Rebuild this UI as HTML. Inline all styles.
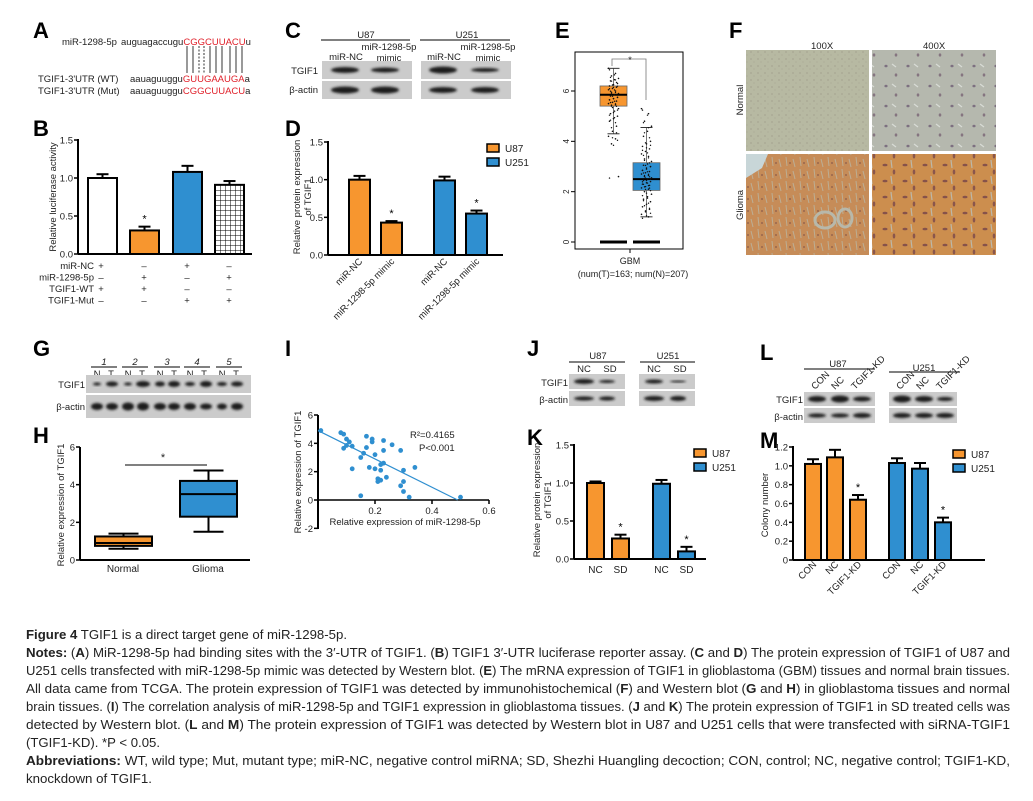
<!DOCTYPE html>
<html><head><meta charset="utf-8"><style>
html,body{margin:0;padding:0;background:#fff;}
svg{display:block;font-family:"Liberation Sans",sans-serif;}
.pl{font-weight:bold;font-size:22px;fill:#000;}
.t{font-size:9.5px;fill:#222;}
.cap{font-size:13px;fill:#222;}
</style></head><body>
<svg id="fig" width="1033" height="801" viewBox="0 0 1033 801" xmlns="http://www.w3.org/2000/svg">
<defs>
<filter id="blur" x="-20%" y="-50%" width="140%" height="200%"><feGaussianBlur stdDeviation="1.3"/></filter>
<pattern id="grid" width="5" height="5" patternUnits="userSpaceOnUse"><rect width="5" height="5" fill="#fff"/><path d="M0 0H5M0 0V5" stroke="#000" stroke-width="1"/></pattern>
<pattern id="nrm1" width="7" height="7" patternUnits="userSpaceOnUse"><rect width="7" height="7" fill="#b7b9a2"/><circle cx="2" cy="3" r="0.5" fill="#8a8070"/><circle cx="5" cy="6" r="0.4" fill="#958d80"/></pattern>
<pattern id="nrm2" width="22" height="20" patternUnits="userSpaceOnUse"><rect width="22" height="20" fill="#b5b8ae"/><ellipse cx="6" cy="6" rx="1.6" ry="1.3" fill="#7d7080"/><ellipse cx="16" cy="15" rx="1.3" ry="1.6" fill="#857580"/><path d="M12 4l4 3" stroke="#d8dcd6" stroke-width="1.2"/></pattern>
<pattern id="gli1" width="14" height="12" patternUnits="userSpaceOnUse"><rect width="14" height="12" fill="#c68c58"/><path d="M2 1l1 9M9 3l2 8" stroke="#bcae94" stroke-width="1"/><circle cx="6" cy="7" r="0.9" fill="#8a5a4a"/></pattern>
<pattern id="gli2" width="20" height="16" patternUnits="userSpaceOnUse"><rect width="20" height="16" fill="#cc8e4e"/><ellipse cx="5" cy="5" rx="2.5" ry="1.3" fill="#86524a"/><ellipse cx="14" cy="12" rx="1.3" ry="2.5" fill="#8a564c"/><path d="M11 0l1 8" stroke="#bcb8a8" stroke-width="1.2"/></pattern>
</defs>

<text class="pl" x="33" y="38">A</text>
<g class="t">
<text x="62" y="45" class="t">miR-1298-5p</text>
<text x="121" y="45" class="t">auguagaccugu<tspan fill="#e0202a">CGGCUUACU</tspan>u</text>
<text x="38" y="82" class="t">TGIF1-3'UTR (WT)</text>
<text x="130" y="82" class="t">aauaguuggu<tspan fill="#e0202a">GUUGAAUGA</tspan>a</text>
<text x="38" y="94" class="t">TGIF1-3'UTR (Mut)</text>
<text x="130" y="94" class="t">aauaguuggu<tspan fill="#e0202a">CGGCUUACU</tspan>a</text>
<g stroke="#000" stroke-width="0.8">
<line x1="187" y1="46" x2="187" y2="73"/><line x1="193" y1="46" x2="193" y2="73"/>
<line x1="199" y1="46" x2="199" y2="73" stroke-dasharray="2,1.5"/><line x1="204" y1="46" x2="204" y2="73" stroke-dasharray="2,1.5"/>
<line x1="210" y1="46" x2="210" y2="73"/><line x1="216" y1="46" x2="216" y2="73"/><line x1="222" y1="46" x2="222" y2="73"/>
<line x1="230" y1="46" x2="230" y2="73"/><line x1="236" y1="46" x2="236" y2="73"/><line x1="242" y1="46" x2="242" y2="73"/>
</g></g>

<text class="pl" x="285" y="38">C</text>
<g id="blotC"></g>

<text class="pl" x="33" y="136">B</text>
<g id="chartB"></g>

<text class="pl" x="285" y="136">D</text>
<g id="chartD"></g>

<text class="pl" x="555" y="38">E</text>
<g id="chartE"></g>

<text class="pl" x="729" y="38">F</text>
<g>
<text x="811" y="49" class="t" font-size="8">100X</text>
<text x="923" y="49" class="t" font-size="8">400X</text>
<rect x="746" y="50" width="123" height="101" fill="url(#nrm1)"/>
<rect x="872" y="50" width="124" height="101" fill="url(#nrm2)"/>
<rect x="746" y="154" width="123" height="101" fill="url(#gli1)"/>
<path d="M746 154h22l-6 14l-16 10z" fill="#c8d6d8"/>
<ellipse cx="825" cy="220" rx="10" ry="8" fill="none" stroke="#b8b8aa" stroke-width="3"/>
<ellipse cx="845" cy="218" rx="7" ry="9" fill="none" stroke="#b8b8aa" stroke-width="3"/>
<rect x="872" y="154" width="124" height="101" fill="url(#gli2)"/>
<text transform="translate(743,100) rotate(-90)" text-anchor="middle" class="t" font-size="8">Normal</text>
<text transform="translate(743,205) rotate(-90)" text-anchor="middle" class="t" font-size="8">Glioma</text>
</g>

<text class="pl" x="33" y="356">G</text>
<g id="blotG"></g>

<text class="pl" x="33" y="443">H</text>
<g id="chartH"></g>

<text class="pl" x="285" y="356">I</text>
<g id="chartI"></g>

<text class="pl" x="527" y="356">J</text>
<g id="blotJ"></g>

<text class="pl" x="527" y="445">K</text>
<g id="chartK"></g>

<text class="pl" x="760" y="360">L</text>
<g id="blotL"></g>

<text class="pl" x="760" y="448">M</text>
<g id="chartM"></g>

<g>
<text class="cap" x="26" y="639" textLength="321" lengthAdjust="spacingAndGlyphs"><tspan font-weight="bold">Figure 4</tspan> TGIF1 is a direct target gene of miR-1298-5p.</text>
<text class="cap" x="26" y="657" textLength="984" lengthAdjust="spacingAndGlyphs"><tspan font-weight="bold">Notes:</tspan> (<tspan font-weight="bold">A</tspan>) MiR-1298-5p had binding sites with the 3′-UTR of TGIF1. (<tspan font-weight="bold">B</tspan>) TGIF1 3′-UTR luciferase reporter assay. (<tspan font-weight="bold">C</tspan> and <tspan font-weight="bold">D</tspan>) The protein expression of TGIF1 of U87 and</text>
<text class="cap" x="26" y="675" textLength="984" lengthAdjust="spacingAndGlyphs">U251 cells transfected with miR-1298-5p mimic was detected by Western blot. (<tspan font-weight="bold">E</tspan>) The mRNA expression of TGIF1 in glioblastoma (GBM) tissues and normal brain tissues.</text>
<text class="cap" x="26" y="693" textLength="984" lengthAdjust="spacingAndGlyphs">All data came from TCGA. The protein expression of TGIF1 was detected by immunohistochemical (<tspan font-weight="bold">F</tspan>) and Western blot (<tspan font-weight="bold">G</tspan> and <tspan font-weight="bold">H</tspan>) in glioblastoma tissues and normal</text>
<text class="cap" x="26" y="711" textLength="984" lengthAdjust="spacingAndGlyphs">brain tissues. (<tspan font-weight="bold">I</tspan>) The correlation analysis of miR-1298-5p and TGIF1 expression in glioblastoma tissues. (<tspan font-weight="bold">J</tspan> and <tspan font-weight="bold">K</tspan>) The protein expression of TGIF1 in SD treated cells was</text>
<text class="cap" x="26" y="729" textLength="984" lengthAdjust="spacingAndGlyphs">detected by Western blot. (<tspan font-weight="bold">L</tspan> and <tspan font-weight="bold">M</tspan>) The protein expression of TGIF1 was detected by Western blot in U87 and U251 cells that were transfected with siRNA-TGIF1</text>
<text class="cap" x="26" y="747" textLength="134" lengthAdjust="spacingAndGlyphs">(TGIF1-KD). *P &lt; 0.05.</text>
<text class="cap" x="26" y="765" textLength="984" lengthAdjust="spacingAndGlyphs"><tspan font-weight="bold">Abbreviations:</tspan> WT, wild type; Mut, mutant type; miR-NC, negative control miRNA; SD, Shezhi Huangling decoction; CON, control; NC, negative control; TGIF1-KD,</text>
<text class="cap" x="26" y="783" textLength="126" lengthAdjust="spacingAndGlyphs">knockdown of TGIF1.</text>
</g>
</svg>
<script>
const bCats = ['miR-NC + WT','miR-1298-5p + WT','miR-NC + Mut','miR-1298-5p + Mut'];
const bValues = [1.0, 0.31, 1.08, 0.91];
const bErrors = [0.05, 0.05, 0.08, 0.05];
const bTicks = [0, 0.5, 1.0, 1.5];
const dCats = ['miR-NC','miR-1298-5p mimic','miR-NC','miR-1298-5p mimic'];
const dValues = [1.0, 0.43, 0.99, 0.55];
const dErrors = [0.05, 0.02, 0.05, 0.04];
const dTicks = [0, 0.5, 1.0, 1.5];
const eTumorStats = [4.3, 5.4, 5.85, 6.2, 6.9];
const eNormalStats = [1.0, 2.05, 2.5, 3.15, 4.55];
const eTumorPoints = [6.9,6.7,6.6,6.5,6.45,6.4,6.3,6.25,6.2,6.15,6.1,6.05,6.0,5.95,5.9,5.85,5.8,5.75,5.7,5.65,5.6,5.55,5.5,5.45,5.4,5.3,5.2,5.1,5.0,4.9,4.8,4.6,4.4,4.2,4.1,3.9,2.6];
const eNormalPoints = [5.3,5.1,4.8,4.6,4.4,4.2,4.0,3.9,3.8,3.7,3.6,3.5,3.4,3.3,3.2,3.1,3.05,3.0,2.9,2.85,2.8,2.75,2.7,2.65,2.6,2.55,2.5,2.45,2.4,2.35,2.3,2.25,2.2,2.15,2.1,2.0,1.9,1.8,1.7,1.6,1.5,1.4,1.3,1.2,1.1,1.0];
const eTicks = [0, 2, 4, 6];
const hNormal = [0.6, 0.75, 0.9, 1.25, 1.4];
const hGlioma = [1.5, 2.3, 3.5, 4.2, 4.75];
const hTicks = [0, 2, 4, 6];
const iX = [0.01,0.08,0.09,0.10,0.11,0.09,0.10,0.12,0.12,0.15,0.16,0.17,0.17,0.19,0.19,0.20,0.18,0.20,0.21,0.21,0.22,0.22,0.22,0.23,0.23,0.23,0.24,0.26,0.29,0.30,0.30,0.29,0.30,0.32,0.34,0.15,0.50];
const iY = [4.9,4.75,4.65,4.3,4.1,3.65,3.85,3.8,2.2,3.0,3.3,3.7,4.5,4.3,4.1,3.2,2.3,2.2,1.5,1.3,1.4,2.1,2.5,2.6,3.5,4.2,1.6,3.9,3.5,2.1,1.3,1.0,0.6,0.2,2.3,0.3,0.2];
const iFit = [4.9, -10.0];
const iXTicks = [0.2, 0.4, 0.6];
const iYTicks = [-2, 0, 2, 4, 6];
const kValues = [1.0, 0.27, 0.99, 0.1];
const kErrors = [0.02, 0.05, 0.05, 0.06];
const kTicks = [0, 0.5, 1.0, 1.5];
const mValues = [1.02, 1.09, 0.64, 1.03, 0.97, 0.40];
const mErrors = [0.05, 0.08, 0.05, 0.05, 0.06, 0.05];
const mTicks = [0, 0.2, 0.4, 0.6, 0.8, 1.0, 1.2];

const NS='http://www.w3.org/2000/svg';
const ORANGE='#f7962f', BLUE='#2f8fd0';
function mk(parent, tag, attrs, txt){const e=document.createElementNS(NS,tag);for(const k in attrs)e.setAttribute(k,attrs[k]);if(txt!==undefined)e.textContent=txt;parent.appendChild(e);return e;}
function lin(d0,d1,r0,r1){return v=>r0+(v-d0)*(r1-r0)/(d1-d0);}

function yAxis(g,x,y,ticks,fmt,yTop,yBot){
  let el=mk(g,'line',{x1:x,y1:yTop,x2:x,y2:yBot,stroke:'#000','stroke-width':2});
  
  
  ticks.forEach(t=>{
    mk(g,'line',{x1:x-4,y1:y(t),x2:x,y2:y(t),stroke:'#000','stroke-width':1.5});
    const tl=mk(g,'text',{x:x-5,y:y(t)+3.5,'text-anchor':'end','font-size':9.5,fill:'#222'},fmt(t));
    
    
  });
}
function bars(g,xs,w,vals,errs,fills,y,stars){
  vals.forEach((v,i)=>{
    const e=y(v+errs[i]);
    mk(g,'line',{x1:xs[i]+w/2,y1:y(v),x2:xs[i]+w/2,y2:e,stroke:'#000','stroke-width':2});
    mk(g,'line',{x1:xs[i]+w/2-6,y1:e,x2:xs[i]+w/2+6,y2:e,stroke:'#000','stroke-width':2});
    const r=mk(g,'rect',{x:xs[i],y:y(v),width:w,height:y(0)-y(v),fill:fills[i],stroke:'#000','stroke-width':2});
    
    
    if(stars&&stars[i]){mk(g,'text',{x:xs[i]+w/2,y:e-4,'text-anchor':'middle','font-size':11,fill:'#000'},'*');}
  });
}
function ylab(g,x,y,lines){
  const t=mk(g,'text',{transform:`translate(${x},${y}) rotate(-90)`,'text-anchor':'middle','font-size':9.5,fill:'#222'});
  
  
  lines.forEach((l,i)=>mk(t,'tspan',{x:0,dy:i?11:0},l));
}
function legend(g,x,y){
  [[ORANGE,'U87'],[BLUE,'U251']].forEach((p,i)=>{
    const r=mk(g,'rect',{x:x,y:y+i*14,width:12,height:8,fill:p[0],stroke:'#000','stroke-width':1.5});
    
    
    const t=mk(g,'text',{x:x+18,y:y+i*14+8,'font-size':10,fill:'#222'},p[1]);
    
    
  });
}
function blot(g,x,y,w,h,bands){
  const r=mk(g,'rect',{x:x,y:y,width:w,height:h,fill:'#cbcbcb'});
  
  
  bands.forEach(b=>mk(g,'ellipse',{cx:b[0],cy:y+h/2,rx:b[1],ry:b[2],fill:'#1e1e1e',filter:'url(#blur)'}));
}
function rlab(g,x,y,s,fs){
  const t=mk(g,'text',{transform:`translate(${x},${y}) rotate(-45)`,'text-anchor':'end','font-size':fs||9.5,fill:'#222'},s);
  
  
}
function txt(g,x,y,s,a,fs,name){
  const t=mk(g,'text',{x:x,y:y,'text-anchor':a||'middle','font-size':fs||9.5,fill:'#222'},s);
  
  
  return t;
}
function hline(g,x1,x2,y){mk(g,'line',{x1:x1,y1:y,x2:x2,y2:y,stroke:'#000','stroke-width':1});}

(function(){const g=document.getElementById('blotC');
 txt(g,366,38,'U87');txt(g,467,38,'U251');hline(g,321,410,40);hline(g,420,510,40);
 txt(g,389,50,'miR-1298-5p');txt(g,346,60,'miR-NC');txt(g,389,61,'mimic');
 txt(g,488,50,'miR-1298-5p');txt(g,444,60,'miR-NC');txt(g,488,61,'mimic');
 txt(g,318,74,'TGIF1','end',9.5,'row-label-tgif1');txt(g,318,93,'β-actin','end',9.5,'row-label-actin');
 blot(g,322,61,90,18,[[345,14,3],[385,14,2.5]]);blot(g,322,81,90,18,[[345,14,3.5],[385,14,3.5]]);
 blot(g,421,61,90,18,[[443,14,3.5],[485,14,2]]);blot(g,421,81,90,18,[[443,14,3],[485,14,3]]);
})();

(function(){const g=document.getElementById('chartB');
 const y=lin(0,1.5,254,140);
 yAxis(g,78,y,bTicks,t=>t.toFixed(1),139,254);
 mk(g,'line',{x1:78,y1:254,x2:252,y2:254,stroke:'#000','stroke-width':2});
 bars(g,[88,130,173,215],29,bValues,bErrors,['#fff',ORANGE,BLUE,'url(#grid)'],y,[0,1,0,0]);
 ylab(g,56,197,['Relative luciferase activity']);
 const rows=['miR-NC','miR-1298-5p','TGIF1-WT','TGIF1-Mut'];
 const signs=[['+','–','+','–'],['–','+','–','+'],['+','+','–','–'],['–','–','+','+']];
 const cx=[101,144,187,229];
 rows.forEach((r,i)=>{txt(g,94,269+i*11.5,r,'end',9.5,'row-label');
  signs[i].forEach((s,j)=>txt(g,cx[j],269+i*11.5,s,'middle',9.5,'sign'));});
})();

(function(){const g=document.getElementById('chartD');
 const y=lin(0,1.5,255,142);
 yAxis(g,328,y,dTicks,t=>t.toFixed(1),141,255);
 mk(g,'line',{x1:328,y1:255,x2:503,y2:255,stroke:'#000','stroke-width':2});
 const xs=[349,381,434,466];
 bars(g,xs,21,dValues,dErrors,[ORANGE,ORANGE,BLUE,BLUE],y,[0,1,0,1]);
 ylab(g,300,197,['Relative protein expression','of TGIF1']);
 dCats.forEach((c,i)=>rlab(g,xs[i]+14,262,c));
 legend(g,487,144);
})();

(function(){const g=document.getElementById('chartE');
 const y=lin(0,6,242,91);
 const fr=mk(g,'rect',{x:575,y:52,width:108,height:197,fill:'none',stroke:'#000','stroke-width':1});
 
 eTicks.forEach(t=>{mk(g,'line',{x1:571,y1:y(t),x2:575,y2:y(t),stroke:'#000'});
  const tl=mk(g,'text',{transform:`translate(569,${y(t)}) rotate(-90)`,'text-anchor':'middle','font-size':8,fill:'#222'},String(t));
  });
 mk(g,'line',{x1:630,y1:249,x2:630,y2:253,stroke:'#000'});
 function box(st,x0,w,col,pts,name){
  mk(g,'line',{x1:x0+w/2,y1:y(st[0]),x2:x0+w/2,y2:y(st[4]),stroke:'#555','stroke-width':0.8});
  mk(g,'line',{x1:x0+w/2-6,y1:y(st[0]),x2:x0+w/2+6,y2:y(st[0]),stroke:'#333'});
  mk(g,'line',{x1:x0+w/2-6,y1:y(st[4]),x2:x0+w/2+6,y2:y(st[4]),stroke:'#333'});
  const r=mk(g,'rect',{x:x0,y:y(st[3]),width:w,height:y(st[1])-y(st[3]),fill:col,stroke:'#666','stroke-width':0.8});
  
  mk(g,'line',{x1:x0,y1:y(st[2]),x2:x0+w,y2:y(st[2]),stroke:'#000','stroke-width':2});
  pts.forEach((v,i)=>mk(g,'circle',{cx:x0+w/2-5+((i*7)%11),cy:y(v),r:0.8,fill:'#111'}));
  pts.forEach((v,i)=>mk(g,'circle',{cx:x0+w/2-4+((i*5)%9),cy:y(v)+1.5,r:0.7,fill:'#111'}));
  mk(g,'line',{x1:x0,y1:242,x2:x0+w,y2:242,stroke:'#000','stroke-width':3});
 }
 box(eTumorStats,600,27,ORANGE,eTumorPoints,'box-tumor');
 box(eNormalStats,633,27,BLUE,eNormalPoints,'box-normal');
 mk(g,'path',{d:'M612 66V59H646V100',fill:'none',stroke:'#777','stroke-width':0.8});
 txt(g,630,63,'*','middle',9);
 txt(g,630,264,'GBM','middle',9,'x-axis-label');
 txt(g,633,277,'(num(T)=163; num(N)=207)','middle',9,'x-axis-subtitle');
})();

(function(){const g=document.getElementById('blotG');
 const cx=[104,135,167,197,229];
 cx.forEach((c,i)=>{const t=txt(g,c,365,String(i+1),'middle',9.5,'sample-number');t.setAttribute('font-style','italic');
  hline(g,c-13,c+13,367);txt(g,c-7,377,'N');txt(g,c+7,377,'T');});
 txt(g,85,388,'TGIF1','end',9.5,'row-label-tgif1');txt(g,85,410,'β-actin','end',9.5,'row-label-actin');
 const tg=[[97,4,1.5],[112,6,2.5],[128,4,1.5],[143,7,3],[160,5,2.5],[174,6,3],[190,5,2],[206,6,3],[222,5,2],[237,6,2.5]];
 const ac=[[97,6,3.5],[112,6,3.5],[128,6,4],[143,6,4],[160,6,3.5],[174,6,3.5],[190,6,3.5],[206,6,3],[222,5,3],[237,6,3.5]];
 blot(g,86,375,165,18,tg);blot(g,86,395,165,23,ac);
})();

(function(){const g=document.getElementById('chartH');
 const y=lin(0,6,560,447);
 yAxis(g,80,y,hTicks,t=>String(t),447,560);
 mk(g,'line',{x1:80,y1:560,x2:250,y2:560,stroke:'#000','stroke-width':2});
 function box(st,x0,w,col,name){
  mk(g,'line',{x1:x0+w/2,y1:y(st[0]),x2:x0+w/2,y2:y(st[4]),stroke:'#000','stroke-width':2});
  mk(g,'line',{x1:x0+w/2-15,y1:y(st[0]),x2:x0+w/2+15,y2:y(st[0]),stroke:'#000','stroke-width':2});
  mk(g,'line',{x1:x0+w/2-15,y1:y(st[4]),x2:x0+w/2+15,y2:y(st[4]),stroke:'#000','stroke-width':2});
  const r=mk(g,'rect',{x:x0,y:y(st[3]),width:w,height:y(st[1])-y(st[3]),fill:col,stroke:'#000','stroke-width':2});
  
  mk(g,'line',{x1:x0,y1:y(st[2]),x2:x0+w,y2:y(st[2]),stroke:'#000','stroke-width':2});
 }
 box(hNormal,95,57,ORANGE,'box-normal');box(hGlioma,180,57,BLUE,'box-glioma');
 hline(g,125,207,465);txt(g,163,461,'*','middle',11);
 txt(g,123,572,'Normal','middle',10,'x-tick-label');txt(g,208,572,'Glioma','middle',10,'x-tick-label');
 ylab(g,64,505,['Relative expression of TGIF1']);
})();

(function(){const g=document.getElementById('chartI');
 const y=lin(0,6,500,415), x=lin(0,0.6,318,489);
 yAxis(g,318,y,iYTicks,t=>String(t),415,529);
 const xa=mk(g,'line',{x1:318,y1:500,x2:489,y2:500,stroke:'#000','stroke-width':1.5});
 
 iXTicks.forEach(t=>{mk(g,'line',{x1:x(t),y1:500,x2:x(t),y2:504,stroke:'#000','stroke-width':1.5});
  txt(g,x(t),514,t.toFixed(1),'middle',9.5,'x-tick-label');});
 const x1=(0-iFit[0])/iFit[1];
 const fl=mk(g,'line',{x1:x(0),y1:y(iFit[0]),x2:x(x1),y2:y(0),stroke:BLUE,'stroke-width':1.2});
 
 iX.forEach((v,i)=>{const c=mk(g,'circle',{cx:x(v),cy:y(iY[i]),r:2.4,fill:BLUE});
  });
 txt(g,410,438,'R²=0.4165','start',9.5,'r-squared');txt(g,419,451,'P<0.001','start',9.5,'p-value');
 txt(g,405,525,'Relative expression of miR-1298-5p','middle',9.5,'x-axis-title');
 ylab(g,301,472,['Relative expression of TGIF1']);
})();

(function(){const g=document.getElementById('blotJ');
 txt(g,598,359,'U87');txt(g,668,359,'U251');hline(g,569,625,362);hline(g,640,695,362);
 txt(g,584,372,'NC');txt(g,610,372,'SD');txt(g,654,372,'NC');txt(g,680,372,'SD');
 txt(g,568,386,'TGIF1','end',9.5,'row-label-tgif1');txt(g,568,403,'β-actin','end',9.5,'row-label-actin');
 blot(g,569,374,56,15,[[584,10,2.5],[607,8,1.5]]);blot(g,569,391,56,15,[[584,10,2],[607,8,2]]);
 blot(g,639,374,56,15,[[654,9,2],[678,8,1]]);blot(g,639,391,56,15,[[654,10,2.5],[678,8,2.5]]);
})();

(function(){const g=document.getElementById('chartK');
 const y=lin(0,1.5,559,445);
 yAxis(g,574,y,kTicks,t=>t.toFixed(1),444,559);
 mk(g,'line',{x1:574,y1:559,x2:706,y2:559,stroke:'#000','stroke-width':2});
 const xs=[587,612,653,678];
 bars(g,xs,17,kValues,kErrors,[ORANGE,ORANGE,BLUE,BLUE],y,[0,1,0,1]);
 ['NC','SD','NC','SD'].forEach((c,i)=>txt(g,xs[i]+8.5,573,c,'middle',10,'x-tick-label'));
 ylab(g,540,500,['Relative protein expression','of TGIF1']);
 legend(g,694,449);
})();

(function(){const g=document.getElementById('blotL');
 txt(g,838,367,'U87');txt(g,924,371,'U251');hline(g,804,875,369);hline(g,889,960,372);
 [[815,'CON'],[835,'NC'],[855,'TGIF1-KD'],[900,'CON'],[920,'NC'],[940,'TGIF1-KD']].forEach(p=>{
  const t=mk(g,'text',{transform:`translate(${p[0]},${390}) rotate(-45)`,'font-size':9.5,fill:'#222'},p[1]);
  });
 txt(g,803,403,'TGIF1','end',9.5,'row-label-tgif1');txt(g,803,420,'β-actin','end',9.5,'row-label-actin');
 blot(g,804,392,71,14,[[817,9,3],[840,9,3.5],[862,9,2.5]]);blot(g,804,408,71,15,[[817,9,2],[840,9,2],[862,9,2.5]]);
 blot(g,889,392,68,14,[[902,9,3.5],[924,9,3],[945,8,2]]);blot(g,889,408,68,15,[[902,9,2.5],[924,9,2.5],[945,9,2.5]]);
})();

(function(){const g=document.getElementById('chartM');
 const y=lin(0,1.2,560,447);
 yAxis(g,793,y,mTicks,t=>t===0?'0':t.toFixed(1),446,560);
 mk(g,'line',{x1:793,y1:560,x2:985,y2:560,stroke:'#000','stroke-width':2});
 const xs=[805,827,850,889,912,935];
 bars(g,xs,16,mValues,mErrors,[ORANGE,ORANGE,ORANGE,BLUE,BLUE,BLUE],y,[0,0,1,0,0,1]);
 ['CON','NC','TGIF1-KD','CON','NC','TGIF1-KD'].forEach((c,i)=>rlab(g,xs[i]+12,565,c));
 ylab(g,768,505,['Colony number']);
 legend(g,953,450);
})();
</script>
</body></html>
